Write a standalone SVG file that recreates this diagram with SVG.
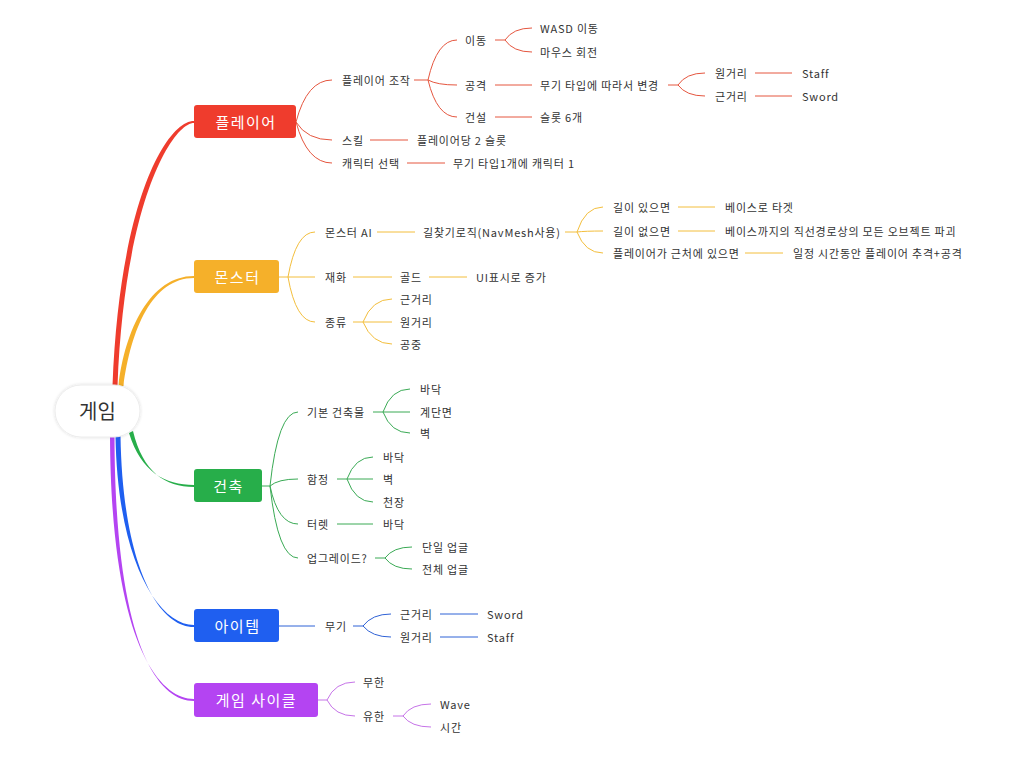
<svg xmlns="http://www.w3.org/2000/svg" width="1035" height="763" viewBox="0 0 1035 763">
<defs>
<filter id="sh" x="-20%" y="-20%" width="140%" height="140%"><feDropShadow dx="0" dy="0" stdDeviation="1.5" flood-color="#000" flood-opacity="0.15"/></filter>
</defs>
<style>
text{font-family:"Noto Sans CJK KR","Noto Sans",sans-serif;dominant-baseline:central}
.t{font-size:11px;fill:#333;letter-spacing:0.8px}
.b{font-size:15px;fill:#fff;letter-spacing:1.5px;text-anchor:middle}
.c path{fill:none;stroke-width:1}
.r path{stroke:#E5563F}
.o path{stroke:#F3BE3C}
.g path{stroke:#3AAA55}
.bl path{stroke:#2F62D6}
.p path{stroke:#C674E8}
</style>
<rect width="1035" height="763" fill="#fff"/>
<g id="connectors">
<path d="M112.5,386 C119.5,200 167,121 194,121 L194,123 C173,123 124.5,200 117.5,386 Z" fill="#EF3C2D"/>
<path d="M118.5,386 C125,330 150,276 194,276 L194,278 C152,278 131,330 123.5,386 Z" fill="#F5B02A"/>
<path d="M129,433 C141,472 165,485 194,485 L194,487 C165,487 143,472 133,431 Z" fill="#27AE4A"/>
<path d="M115.5,436 C117.5,560 158,625 194,625 L194,627 C156,627 122.5,560 120.5,436 Z" fill="#1F5FF0"/>
<path d="M110,436 C111,640 158,699 194,699 L194,701 C156,701 115,640 114.5,436 Z" fill="#B444F2"/>
<g class="c r">
<path d="M296,122 Q307,80 332,80"/>
<path d="M296,122 Q307,140 332,140"/>
<path d="M296,122 Q307,163 332,163"/>
<path d="M414,80 L428,80"/>
<path d="M428,80 Q437,40 457,40"/>
<path d="M428,80 Q437,85 457,85"/>
<path d="M428,80 Q437,117 457,117"/>
<path d="M495,40 L505,40"/>
<path d="M505,40 Q513,28 532,28"/>
<path d="M505,40 Q513,52 532,52"/>
<path d="M495,85 L532,85"/>
<path d="M495,117 L532,117"/>
<path d="M668,85 L678,85"/>
<path d="M678,85 Q686,73 705,73"/>
<path d="M678,85 Q686,96 705,96"/>
<path d="M755,73 L792,73"/>
<path d="M755,96 L792,96"/>
<path d="M370,140 L408,140"/>
<path d="M407,163 L445,163"/>
</g>
<g class="c o">
<path d="M279,277 L288,277"/>
<path d="M288,277 Q296,232 315,232"/>
<path d="M288,277 L315,277"/>
<path d="M288,277 Q296,322 315,322"/>
<path d="M377,232 L415,232"/>
<path d="M565,232 L577,232"/>
<path d="M577,232 Q585,207 603,207"/>
<path d="M577,232 Q585,231 603,231"/>
<path d="M577,232 Q585,253 603,253"/>
<path d="M678,207 L715,207"/>
<path d="M678,231 L715,231"/>
<path d="M745,253 L783,253"/>
<path d="M353,277 L392,277"/>
<path d="M429,277 L467,277"/>
<path d="M353,322 L363,322"/>
<path d="M363,322 Q372,299 392,299"/>
<path d="M363,322 L392,322"/>
<path d="M363,322 Q372,344 392,344"/>
</g>
<g class="c g">
<path d="M262,486 L270,486"/>
<path d="M270,486 Q278,412 298,412"/>
<path d="M270,486 Q278,479 298,479"/>
<path d="M270,486 Q278,524 298,524"/>
<path d="M270,486 Q278,558 298,558"/>
<path d="M373,412 L383,412"/>
<path d="M383,412 Q391,389 410,389"/>
<path d="M383,412 L410,412"/>
<path d="M383,412 Q391,433 410,433"/>
<path d="M337,479 L347,479"/>
<path d="M347,479 Q355,457 373,457"/>
<path d="M347,479 L373,479"/>
<path d="M347,479 Q355,502 373,502"/>
<path d="M337,524 L373,524"/>
<path d="M375,558 L385,558"/>
<path d="M385,558 Q393,547 412,547"/>
<path d="M385,558 Q393,569 412,569"/>
</g>
<g class="c bl">
<path d="M279,626 L315,626"/>
<path d="M353,626 L363,626"/>
<path d="M363,626 Q372,614 391,614"/>
<path d="M363,626 Q372,637 391,637"/>
<path d="M440,614 L478,614"/>
<path d="M440,637 L478,637"/>
</g>
<g class="c p">
<path d="M318,700 L327,700"/>
<path d="M327,700 Q335,682 355,682"/>
<path d="M327,700 Q335,716 355,716"/>
<path d="M393,716 L403,716"/>
<path d="M403,716 Q411,704 431,704"/>
<path d="M403,716 Q411,727 431,727"/>
</g>
</g>
<g id="root">
<rect x="55" y="385" width="85" height="52" rx="26" fill="#fff" stroke="#ececec" filter="url(#sh)"/>
<text x="97.5" y="410" style="font-size:20px;fill:#333;text-anchor:middle">게임</text>
</g>
<g id="player">
<rect x="194" y="105" width="102" height="33" rx="3" fill="#EF3C2D"/>
<text class="b" x="246" y="121">플레이어</text>
</g>
<g id="monster">
<rect x="194" y="260" width="85" height="33" rx="3" fill="#F5B02A"/>
<text class="b" x="237.5" y="276">몬스터</text>
</g>
<g id="building">
<rect x="194" y="469" width="68" height="33" rx="3" fill="#27AE4A"/>
<text class="b" x="228.5" y="485">건축</text>
</g>
<g id="item">
<rect x="194" y="609" width="85" height="33" rx="3" fill="#1F5FF0"/>
<text class="b" x="237.5" y="625">아이템</text>
</g>
<g id="cycle">
<rect x="194" y="683" width="124" height="34" rx="3" fill="#B444F2"/>
<text class="b" x="256.5" y="699">게임 사이클</text>
</g>
<g id="player-children">
<text class="t" x="342" y="80">플레이어 조작</text>
<text class="t" x="342" y="140">스킬</text>
<text class="t" x="342" y="163">캐릭터 선택</text>
<text class="t" x="465" y="40">이동</text>
<text class="t" x="465" y="85">공격</text>
<text class="t" x="465" y="117">건설</text>
<text class="t" x="540" y="28">WASD 이동</text>
<text class="t" x="540" y="52">마우스 회전</text>
<text class="t" x="540" y="85">무기 타입에 따라서 변경</text>
<text class="t" x="540" y="117">슬롯 6개</text>
<text class="t" x="715" y="73">원거리</text>
<text class="t" x="715" y="96">근거리</text>
<text class="t" x="802" y="73">Staff</text>
<text class="t" x="802" y="96">Sword</text>
<text class="t" x="417" y="140">플레이어당 2 슬롯</text>
<text class="t" x="453" y="163">무기 타입1개에 캐릭터 1</text>
</g>
<g id="monster-children">
<text class="t" x="325" y="232">몬스터 AI</text>
<text class="t" x="325" y="277">재화</text>
<text class="t" x="325" y="322">종류</text>
<text class="t" x="423" y="232">길찾기로직(NavMesh사용)</text>
<text class="t" x="613" y="207">길이 있으면</text>
<text class="t" x="613" y="231">길이 없으면</text>
<text class="t" x="613" y="253">플레이어가 근처에 있으면</text>
<text class="t" x="725" y="207">베이스로 타겟</text>
<text class="t" x="725" y="231">베이스까지의 직선경로상의 모든 오브젝트 파괴</text>
<text class="t" x="793" y="253">일정 시간동안 플레이어 추격+공격</text>
<text class="t" x="400" y="277">골드</text>
<text class="t" x="476" y="277">UI표시로 증가</text>
<text class="t" x="400" y="299">근거리</text>
<text class="t" x="400" y="322">원거리</text>
<text class="t" x="400" y="344">공중</text>
</g>
<g id="building-children">
<text class="t" x="307" y="412">기본 건축물</text>
<text class="t" x="307" y="479">함정</text>
<text class="t" x="307" y="524">터렛</text>
<text class="t" x="307" y="558">업그레이드?</text>
<text class="t" x="420" y="389">바닥</text>
<text class="t" x="420" y="412">계단면</text>
<text class="t" x="420" y="433">벽</text>
<text class="t" x="383" y="457">바닥</text>
<text class="t" x="383" y="479">벽</text>
<text class="t" x="383" y="502">천장</text>
<text class="t" x="383" y="524">바닥</text>
<text class="t" x="422" y="547">단일 업글</text>
<text class="t" x="422" y="569">전체 업글</text>
</g>
<g id="item-children">
<text class="t" x="325" y="626">무기</text>
<text class="t" x="400" y="614">근거리</text>
<text class="t" x="400" y="637">원거리</text>
<text class="t" x="487" y="614">Sword</text>
<text class="t" x="487" y="637">Staff</text>
</g>
<g id="cycle-children">
<text class="t" x="363" y="682">무한</text>
<text class="t" x="363" y="716">유한</text>
<text class="t" x="440" y="704">Wave</text>
<text class="t" x="440" y="727">시간</text>
</g>
</svg>
